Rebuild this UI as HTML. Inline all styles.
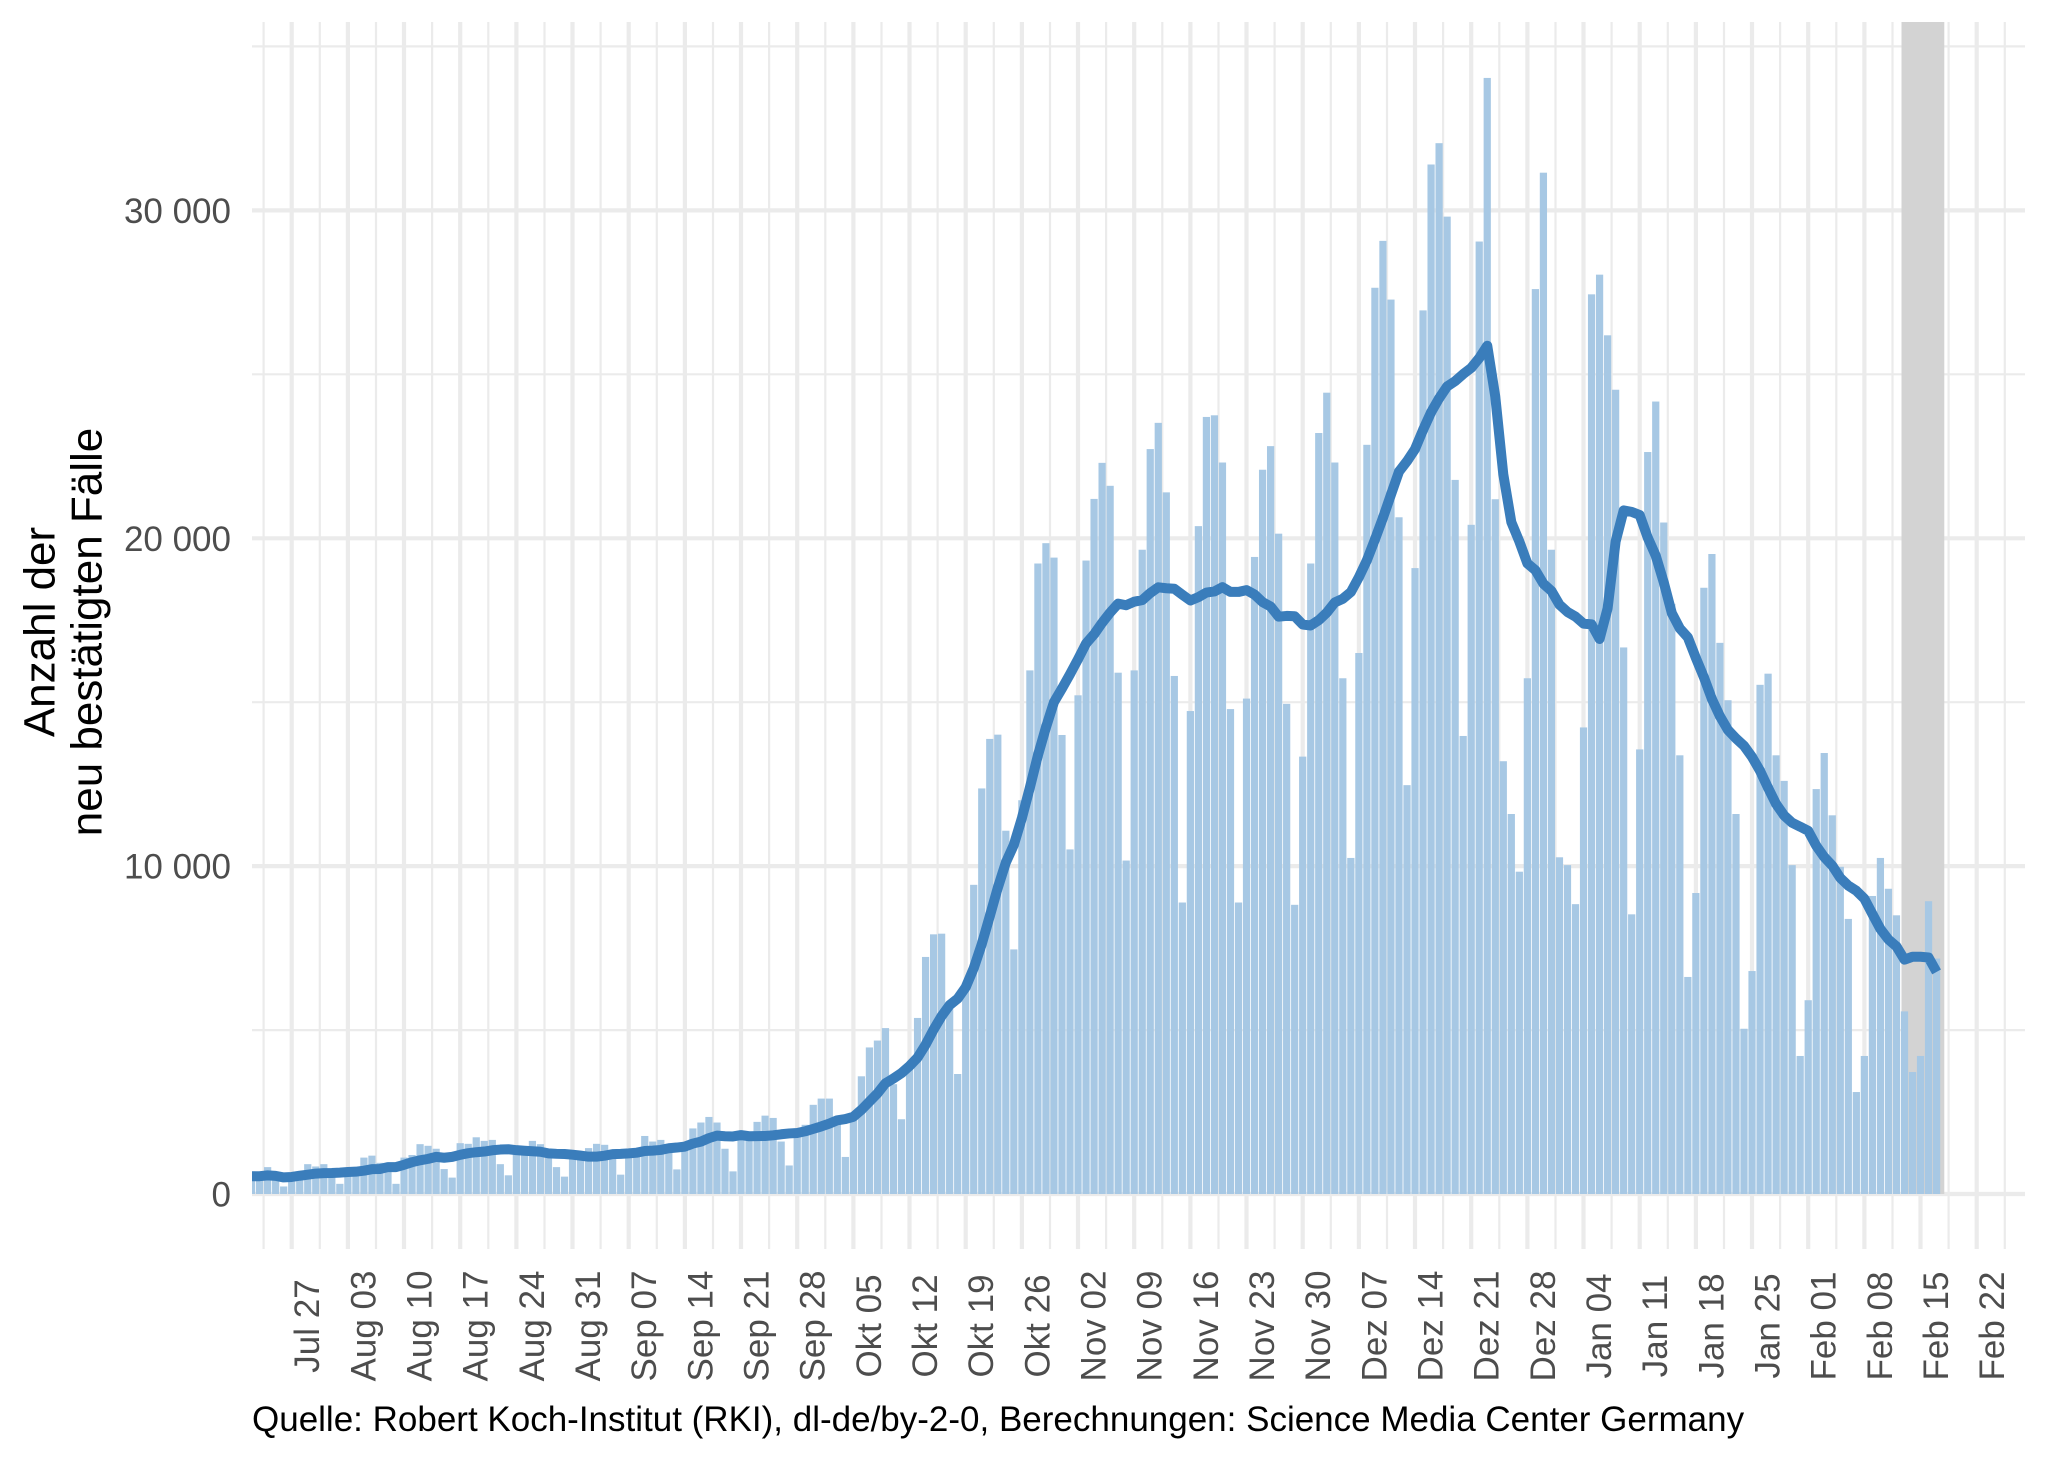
<!DOCTYPE html>
<html><head><meta charset="utf-8"><style>
html,body{margin:0;padding:0;background:#fff}
svg{display:block}
text{font-family:"Liberation Sans",Arial,sans-serif}
</style></head><body>
<svg width="2048" height="1462" viewBox="0 0 2048 1462" xmlns="http://www.w3.org/2000/svg">
<defs><clipPath id="pc"><rect x="252" y="22" width="1773" height="1227"/></clipPath></defs>
<rect width="2048" height="1462" fill="#fff"/>
<g stroke="#ebebeb" fill="none">
<g stroke-width="2.2">
<line x1="252" x2="2025" y1="1030.1" y2="1030.1"/><line x1="252" x2="2025" y1="702.2" y2="702.2"/><line x1="252" x2="2025" y1="374.3" y2="374.3"/><line x1="252" x2="2025" y1="46.4" y2="46.4"/>
<line y1="22" y2="1249" x1="263.6" x2="263.6"/><line y1="22" y2="1249" x1="319.8" x2="319.8"/><line y1="22" y2="1249" x1="376" x2="376"/><line y1="22" y2="1249" x1="432.1" x2="432.1"/><line y1="22" y2="1249" x1="488.3" x2="488.3"/><line y1="22" y2="1249" x1="544.5" x2="544.5"/><line y1="22" y2="1249" x1="600.6" x2="600.6"/><line y1="22" y2="1249" x1="656.8" x2="656.8"/><line y1="22" y2="1249" x1="713" x2="713"/><line y1="22" y2="1249" x1="769.1" x2="769.1"/><line y1="22" y2="1249" x1="825.3" x2="825.3"/><line y1="22" y2="1249" x1="881.5" x2="881.5"/><line y1="22" y2="1249" x1="937.6" x2="937.6"/><line y1="22" y2="1249" x1="993.8" x2="993.8"/><line y1="22" y2="1249" x1="1050" x2="1050"/><line y1="22" y2="1249" x1="1106.1" x2="1106.1"/><line y1="22" y2="1249" x1="1162.3" x2="1162.3"/><line y1="22" y2="1249" x1="1218.5" x2="1218.5"/><line y1="22" y2="1249" x1="1274.6" x2="1274.6"/><line y1="22" y2="1249" x1="1330.8" x2="1330.8"/><line y1="22" y2="1249" x1="1387" x2="1387"/><line y1="22" y2="1249" x1="1443.1" x2="1443.1"/><line y1="22" y2="1249" x1="1499.3" x2="1499.3"/><line y1="22" y2="1249" x1="1555.5" x2="1555.5"/><line y1="22" y2="1249" x1="1611.6" x2="1611.6"/><line y1="22" y2="1249" x1="1667.8" x2="1667.8"/><line y1="22" y2="1249" x1="1724" x2="1724"/><line y1="22" y2="1249" x1="1780.1" x2="1780.1"/><line y1="22" y2="1249" x1="1836.3" x2="1836.3"/><line y1="22" y2="1249" x1="1892.5" x2="1892.5"/><line y1="22" y2="1249" x1="1948.6" x2="1948.6"/><line y1="22" y2="1249" x1="2004.8" x2="2004.8"/>
</g>
<g stroke-width="4.2">
<line x1="252" x2="2025" y1="1194" y2="1194"/><line x1="252" x2="2025" y1="866.1" y2="866.1"/><line x1="252" x2="2025" y1="538.3" y2="538.3"/><line x1="252" x2="2025" y1="210.4" y2="210.4"/>
<line y1="22" y2="1249" x1="291.7" x2="291.7"/><line y1="22" y2="1249" x1="347.9" x2="347.9"/><line y1="22" y2="1249" x1="404" x2="404"/><line y1="22" y2="1249" x1="460.2" x2="460.2"/><line y1="22" y2="1249" x1="516.4" x2="516.4"/><line y1="22" y2="1249" x1="572.5" x2="572.5"/><line y1="22" y2="1249" x1="628.7" x2="628.7"/><line y1="22" y2="1249" x1="684.9" x2="684.9"/><line y1="22" y2="1249" x1="741" x2="741"/><line y1="22" y2="1249" x1="797.2" x2="797.2"/><line y1="22" y2="1249" x1="853.4" x2="853.4"/><line y1="22" y2="1249" x1="909.5" x2="909.5"/><line y1="22" y2="1249" x1="965.7" x2="965.7"/><line y1="22" y2="1249" x1="1021.9" x2="1021.9"/><line y1="22" y2="1249" x1="1078" x2="1078"/><line y1="22" y2="1249" x1="1134.2" x2="1134.2"/><line y1="22" y2="1249" x1="1190.4" x2="1190.4"/><line y1="22" y2="1249" x1="1246.5" x2="1246.5"/><line y1="22" y2="1249" x1="1302.7" x2="1302.7"/><line y1="22" y2="1249" x1="1358.9" x2="1358.9"/><line y1="22" y2="1249" x1="1415" x2="1415"/><line y1="22" y2="1249" x1="1471.2" x2="1471.2"/><line y1="22" y2="1249" x1="1527.4" x2="1527.4"/><line y1="22" y2="1249" x1="1583.5" x2="1583.5"/><line y1="22" y2="1249" x1="1639.7" x2="1639.7"/><line y1="22" y2="1249" x1="1695.9" x2="1695.9"/><line y1="22" y2="1249" x1="1752" x2="1752"/><line y1="22" y2="1249" x1="1808.2" x2="1808.2"/><line y1="22" y2="1249" x1="1864.4" x2="1864.4"/><line y1="22" y2="1249" x1="1920.5" x2="1920.5"/><line y1="22" y2="1249" x1="1976.7" x2="1976.7"/>
</g>
</g>
<rect x="1901.5" y="22" width="42.8" height="1172" fill="#d3d3d3"/>
<g clip-path="url(#pc)">
<g transform="translate(291.7,1194) scale(8.0238,-0.032787)" fill="#a7c8e4">
<rect x="-5.45" width=".9" height="690"/><rect x="-4.45" width=".9" height="600"/><rect x="-3.45" width=".9" height="820"/><rect x="-2.45" width=".9" height="500"/><rect x="-1.45" width=".9" height="230"/><rect x="-0.45" width=".9" height="500"/><rect x="0.55" width=".9" height="560"/><rect x="1.55" width=".9" height="910"/><rect x="2.55" width=".9" height="840"/><rect x="3.55" width=".9" height="910"/><rect x="4.55" width=".9" height="540"/><rect x="5.55" width=".9" height="310"/><rect x="6.55" width=".9" height="620"/><rect x="7.55" width=".9" height="640"/><rect x="8.55" width=".9" height="1110"/><rect x="9.55" width=".9" height="1170"/><rect x="10.55" width=".9" height="950"/><rect x="11.55" width=".9" height="950"/><rect x="12.55" width=".9" height="310"/><rect x="13.55" width=".9" height="1110"/><rect x="14.55" width=".9" height="1190"/><rect x="15.55" width=".9" height="1520"/><rect x="16.55" width=".9" height="1470"/><rect x="17.55" width=".9" height="1380"/><rect x="18.55" width=".9" height="760"/><rect x="19.55" width=".9" height="500"/><rect x="20.55" width=".9" height="1550"/><rect x="21.55" width=".9" height="1530"/><rect x="22.55" width=".9" height="1730"/><rect x="23.55" width=".9" height="1620"/><rect x="24.55" width=".9" height="1650"/><rect x="25.55" width=".9" height="910"/><rect x="26.55" width=".9" height="570"/><rect x="27.55" width=".9" height="1350"/><rect x="28.55" width=".9" height="1400"/><rect x="29.55" width=".9" height="1620"/><rect x="30.55" width=".9" height="1520"/><rect x="31.55" width=".9" height="1300"/><rect x="32.55" width=".9" height="820"/><rect x="33.55" width=".9" height="530"/><rect x="34.55" width=".9" height="1200"/><rect x="35.55" width=".9" height="1200"/><rect x="36.55" width=".9" height="1400"/><rect x="37.55" width=".9" height="1530"/><rect x="38.55" width=".9" height="1500"/><rect x="39.55" width=".9" height="1150"/><rect x="40.55" width=".9" height="590"/><rect x="41.55" width=".9" height="1300"/><rect x="42.55" width=".9" height="1350"/><rect x="43.55" width=".9" height="1770"/><rect x="44.55" width=".9" height="1600"/><rect x="45.55" width=".9" height="1650"/><rect x="46.55" width=".9" height="1500"/><rect x="47.55" width=".9" height="750"/><rect x="48.55" width=".9" height="1500"/><rect x="49.55" width=".9" height="2000"/><rect x="50.55" width=".9" height="2180"/><rect x="51.55" width=".9" height="2350"/><rect x="52.55" width=".9" height="2180"/><rect x="53.55" width=".9" height="1380"/><rect x="54.55" width=".9" height="690"/><rect x="55.55" width=".9" height="1800"/><rect x="56.55" width=".9" height="1750"/><rect x="57.55" width=".9" height="2200"/><rect x="58.55" width=".9" height="2390"/><rect x="59.55" width=".9" height="2320"/><rect x="60.55" width=".9" height="1600"/><rect x="61.55" width=".9" height="870"/><rect x="62.55" width=".9" height="1900"/><rect x="63.55" width=".9" height="2110"/><rect x="64.55" width=".9" height="2720"/><rect x="65.55" width=".9" height="2910"/><rect x="66.55" width=".9" height="2910"/><rect x="67.55" width=".9" height="2320"/><rect x="68.55" width=".9" height="1130"/><rect x="69.55" width=".9" height="2390"/><rect x="70.55" width=".9" height="3590"/><rect x="71.55" width=".9" height="4470"/><rect x="72.55" width=".9" height="4680"/><rect x="73.55" width=".9" height="5060"/><rect x="74.55" width=".9" height="3350"/><rect x="75.55" width=".9" height="2280"/><rect x="76.55" width=".9" height="3900"/><rect x="77.55" width=".9" height="5370"/><rect x="78.55" width=".9" height="7230"/><rect x="79.55" width=".9" height="7920"/><rect x="80.55" width=".9" height="7940"/><rect x="81.55" width=".9" height="5700"/><rect x="82.55" width=".9" height="3660"/><rect x="83.55" width=".9" height="6320"/><rect x="84.55" width=".9" height="9430"/><rect x="85.55" width=".9" height="12370"/><rect x="86.55" width=".9" height="13880"/><rect x="87.55" width=".9" height="14010"/><rect x="88.55" width=".9" height="11080"/><rect x="89.55" width=".9" height="7460"/><rect x="90.55" width=".9" height="12010"/><rect x="91.55" width=".9" height="15970"/><rect x="92.55" width=".9" height="19230"/><rect x="93.55" width=".9" height="19850"/><rect x="94.55" width=".9" height="19410"/><rect x="95.55" width=".9" height="14000"/><rect x="96.55" width=".9" height="10510"/><rect x="97.55" width=".9" height="15210"/><rect x="98.55" width=".9" height="19320"/><rect x="99.55" width=".9" height="21200"/><rect x="100.55" width=".9" height="22300"/><rect x="101.55" width=".9" height="21600"/><rect x="102.55" width=".9" height="15900"/><rect x="103.55" width=".9" height="10170"/><rect x="104.55" width=".9" height="15970"/><rect x="105.55" width=".9" height="19650"/><rect x="106.55" width=".9" height="22720"/><rect x="107.55" width=".9" height="23520"/><rect x="108.55" width=".9" height="21400"/><rect x="109.55" width=".9" height="15800"/><rect x="110.55" width=".9" height="8890"/><rect x="111.55" width=".9" height="14730"/><rect x="112.55" width=".9" height="20370"/><rect x="113.55" width=".9" height="23700"/><rect x="114.55" width=".9" height="23750"/><rect x="115.55" width=".9" height="22310"/><rect x="116.55" width=".9" height="14790"/><rect x="117.55" width=".9" height="8890"/><rect x="118.55" width=".9" height="15110"/><rect x="119.55" width=".9" height="19430"/><rect x="120.55" width=".9" height="22090"/><rect x="121.55" width=".9" height="22810"/><rect x="122.55" width=".9" height="20140"/><rect x="123.55" width=".9" height="14950"/><rect x="124.55" width=".9" height="8820"/><rect x="125.55" width=".9" height="13340"/><rect x="126.55" width=".9" height="19230"/><rect x="127.55" width=".9" height="23210"/><rect x="128.55" width=".9" height="24440"/><rect x="129.55" width=".9" height="22310"/><rect x="130.55" width=".9" height="15730"/><rect x="131.55" width=".9" height="10250"/><rect x="132.55" width=".9" height="16500"/><rect x="133.55" width=".9" height="22850"/><rect x="134.55" width=".9" height="27640"/><rect x="135.55" width=".9" height="29070"/><rect x="136.55" width=".9" height="27280"/><rect x="137.55" width=".9" height="20640"/><rect x="138.55" width=".9" height="12470"/><rect x="139.55" width=".9" height="19090"/><rect x="140.55" width=".9" height="26950"/><rect x="141.55" width=".9" height="31400"/><rect x="142.55" width=".9" height="32050"/><rect x="143.55" width=".9" height="29810"/><rect x="144.55" width=".9" height="21780"/><rect x="145.55" width=".9" height="13970"/><rect x="146.55" width=".9" height="20410"/><rect x="147.55" width=".9" height="29050"/><rect x="148.55" width=".9" height="34040"/><rect x="149.55" width=".9" height="21190"/><rect x="150.55" width=".9" height="13200"/><rect x="151.55" width=".9" height="11590"/><rect x="152.55" width=".9" height="9830"/><rect x="153.55" width=".9" height="15730"/><rect x="154.55" width=".9" height="27600"/><rect x="155.55" width=".9" height="31150"/><rect x="156.55" width=".9" height="19650"/><rect x="157.55" width=".9" height="10270"/><rect x="158.55" width=".9" height="10030"/><rect x="159.55" width=".9" height="8840"/><rect x="160.55" width=".9" height="14230"/><rect x="161.55" width=".9" height="27440"/><rect x="162.55" width=".9" height="28040"/><rect x="163.55" width=".9" height="26190"/><rect x="164.55" width=".9" height="24530"/><rect x="165.55" width=".9" height="16670"/><rect x="166.55" width=".9" height="8530"/><rect x="167.55" width=".9" height="13560"/><rect x="168.55" width=".9" height="22630"/><rect x="169.55" width=".9" height="24170"/><rect x="170.55" width=".9" height="20480"/><rect x="171.55" width=".9" height="18000"/><rect x="172.55" width=".9" height="13380"/><rect x="173.55" width=".9" height="6620"/><rect x="174.55" width=".9" height="9180"/><rect x="175.55" width=".9" height="18490"/><rect x="176.55" width=".9" height="19520"/><rect x="177.55" width=".9" height="16810"/><rect x="178.55" width=".9" height="15060"/><rect x="179.55" width=".9" height="11590"/><rect x="180.55" width=".9" height="5040"/><rect x="181.55" width=".9" height="6800"/><rect x="182.55" width=".9" height="15530"/><rect x="183.55" width=".9" height="15870"/><rect x="184.55" width=".9" height="13380"/><rect x="185.55" width=".9" height="12600"/><rect x="186.55" width=".9" height="10030"/><rect x="187.55" width=".9" height="4210"/><rect x="188.55" width=".9" height="5910"/><rect x="189.55" width=".9" height="12350"/><rect x="190.55" width=".9" height="13450"/><rect x="191.55" width=".9" height="11550"/><rect x="192.55" width=".9" height="9980"/><rect x="193.55" width=".9" height="8390"/><rect x="194.55" width=".9" height="3110"/><rect x="195.55" width=".9" height="4210"/><rect x="196.55" width=".9" height="9090"/><rect x="197.55" width=".9" height="10250"/><rect x="198.55" width=".9" height="9310"/><rect x="199.55" width=".9" height="8500"/><rect x="200.55" width=".9" height="5570"/><rect x="201.55" width=".9" height="3720"/><rect x="202.55" width=".9" height="4210"/><rect x="203.55" width=".9" height="8930"/><rect x="204.55" width=".9" height="7180"/>
</g>
<g transform="translate(291.7,1194) scale(8.0238,-0.00468386)">
<path fill="none" stroke="#3a7dbb" stroke-width="10" stroke-linejoin="round" vector-effect="non-scaling-stroke" d="M-5,3800 L-4,3800 -3,3970 -2,3870 -1,3540 0,3640 1,3900 2,4120 3,4360 4,4450 5,4490 6,4570 7,4690 8,4770 9,4970 10,5300 11,5340 12,5750 13,5750 14,6240 15,6790 16,7200 17,7500 18,7930 19,7740 20,7930 21,8370 22,8710 23,8920 24,9070 25,9340 26,9490 27,9560 28,9360 29,9230 30,9120 31,9020 32,8670 33,8580 34,8540 35,8390 36,8190 37,7970 38,7980 39,8180 40,8510 41,8570 42,8670 43,8820 44,9190 45,9260 46,9410 47,9760 48,9920 49,10120 50,10770 51,11180 52,11930 53,12460 54,12340 55,12280 56,12580 57,12330 58,12350 59,12390 60,12530 61,12750 62,12930 63,13030 64,13390 65,13910 66,14430 67,15020 68,15740 69,16000 70,16490 71,17970 72,19720 73,21490 74,23640 75,24670 76,25820 77,27330 78,29110 79,31870 80,35110 81,37990 82,40340 83,41720 84,44140 85,48200 86,53340 87,59300 88,65370 89,70750 90,74550 91,80240 92,86780 93,93640 94,99610 95,105010 96,107930 97,110980 98,114180 99,117530 100,119500 101,121950 102,124140 103,126040 104,125700 105,126460 106,126790 107,128310 108,129530 109,129330 110,129230 111,127950 112,126710 113,127430 114,128410 115,128640 116,129550 117,128540 118,128540 119,128920 120,127980 121,126370 122,125430 123,123260 124,123420 125,123350 126,121580 127,121380 128,122500 129,124130 130,126300 131,127080 132,128510 133,131670 134,135290 135,139720 136,144350 137,149320 138,154230 139,156450 140,159040 141,163140 142,166900 143,169880 144,172410 145,173550 146,175050 147,176370 148,178470 149,181110 150,170250 151,153640 152,143450 153,139310 154,134630 155,133180 156,130290 157,128750 158,125820 159,124260 160,123270 161,121770 162,121610 163,118500 164,125040 165,139300 166,145940 167,145630 168,144960 169,140150 170,136280 171,130570 172,124040 173,120750 174,118840 175,114460 176,110320 177,105670 178,102000 179,99060 180,97270 181,95690 182,93310 183,90350 184,86700 185,83270 186,80810 187,79250 188,78420 189,77530 190,74350 191,71930 192,70100 193,67480 194,65840 195,64740 196,63040 197,59780 198,56580 199,54340 200,52860 201,50040 202,50650 203,50650 204,50490 205,47420"/>
</g>
</g>
<g font-size="35" fill="#4d4d4d" text-anchor="end">
<text x="231" y="1206.5">0</text>
<text x="231" y="878.6">10 000</text>
<text x="231" y="550.8">20 000</text>
<text x="231" y="222.9">30 000</text>
</g>
<g font-size="35" fill="#4d4d4d" text-anchor="middle">
<text transform="translate(319.2,1326) rotate(-90)">Jul 27</text>
<text transform="translate(375.4,1326) rotate(-90)">Aug 03</text>
<text transform="translate(431.5,1326) rotate(-90)">Aug 10</text>
<text transform="translate(487.7,1326) rotate(-90)">Aug 17</text>
<text transform="translate(543.9,1326) rotate(-90)">Aug 24</text>
<text transform="translate(600,1326) rotate(-90)">Aug 31</text>
<text transform="translate(656.2,1326) rotate(-90)">Sep 07</text>
<text transform="translate(712.4,1326) rotate(-90)">Sep 14</text>
<text transform="translate(768.5,1326) rotate(-90)">Sep 21</text>
<text transform="translate(824.7,1326) rotate(-90)">Sep 28</text>
<text transform="translate(880.9,1326) rotate(-90)">Okt 05</text>
<text transform="translate(937,1326) rotate(-90)">Okt 12</text>
<text transform="translate(993.2,1326) rotate(-90)">Okt 19</text>
<text transform="translate(1049.4,1326) rotate(-90)">Okt 26</text>
<text transform="translate(1105.5,1326) rotate(-90)">Nov 02</text>
<text transform="translate(1161.7,1326) rotate(-90)">Nov 09</text>
<text transform="translate(1217.9,1326) rotate(-90)">Nov 16</text>
<text transform="translate(1274,1326) rotate(-90)">Nov 23</text>
<text transform="translate(1330.2,1326) rotate(-90)">Nov 30</text>
<text transform="translate(1386.4,1326) rotate(-90)">Dez 07</text>
<text transform="translate(1442.5,1326) rotate(-90)">Dez 14</text>
<text transform="translate(1498.7,1326) rotate(-90)">Dez 21</text>
<text transform="translate(1554.9,1326) rotate(-90)">Dez 28</text>
<text transform="translate(1611,1326) rotate(-90)">Jan 04</text>
<text transform="translate(1667.2,1326) rotate(-90)">Jan 11</text>
<text transform="translate(1723.4,1326) rotate(-90)">Jan 18</text>
<text transform="translate(1779.5,1326) rotate(-90)">Jan 25</text>
<text transform="translate(1835.7,1326) rotate(-90)">Feb 01</text>
<text transform="translate(1891.9,1326) rotate(-90)">Feb 08</text>
<text transform="translate(1948,1326) rotate(-90)">Feb 15</text>
<text transform="translate(2004.2,1326) rotate(-90)">Feb 22</text>
</g>
<g font-size="44" fill="#000" text-anchor="middle">
<text transform="translate(54.5,632) rotate(-90)">Anzahl der</text>
<text transform="translate(101.5,632) rotate(-90)">neu bestätigten Fälle</text>
</g>
<text x="252" y="1431" font-size="35" fill="#000">Quelle: Robert Koch-Institut (RKI), dl-de/by-2-0, Berechnungen: Science Media Center Germany</text>
</svg>
</body></html>
